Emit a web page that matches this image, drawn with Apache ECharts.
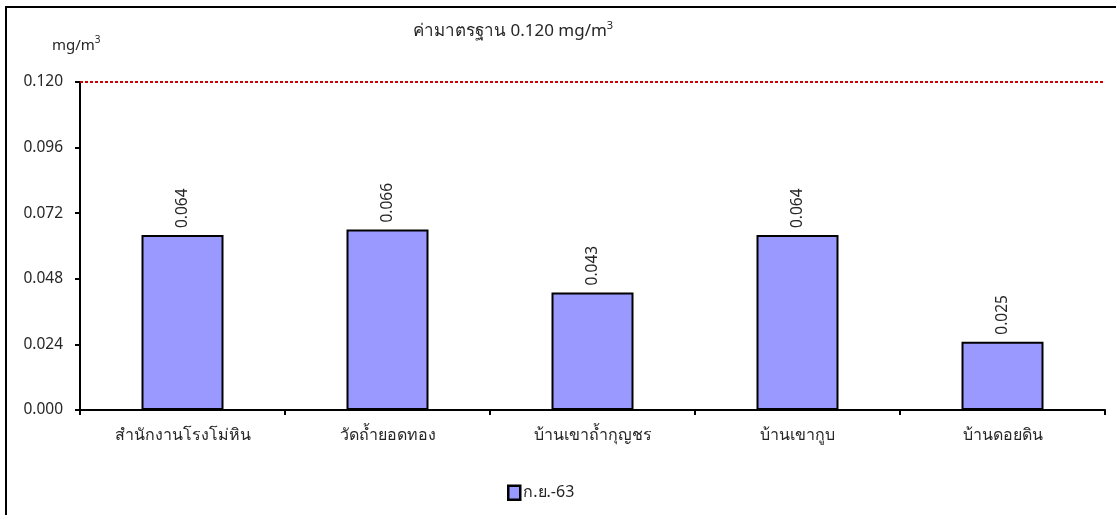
<!DOCTYPE html>
<html><head><meta charset="utf-8">
<script src="https://cdn.jsdelivr.net/npm/echarts@6/dist/echarts.min.js"></script>
<style>html,body{margin:0;padding:0;background:#fff}#c{width:1116px;height:515px}</style>
</head><body><div id="c"></div>
<script>
const categories = ['สำนักงานโรงโม่หิน', 'วัดถ้ำยอดทอง', 'บ้านเขาถ้ำกุญชร', 'บ้านเขากูบ', 'บ้านดอยดิน'];
const values = [0.064, 0.066, 0.043, 0.064, 0.025];
const seriesName = 'ก.ย.-63';
const standardValue = 0.120;
const yMin = 0, yMax = 0.120, yStep = 0.024;

const FONT = "'Noto Sans', 'DejaVu Sans', sans-serif";
const TXT = '#262626';
const chart = echarts.init(document.getElementById('c'), null, {renderer: 'canvas'});
chart.setOption({
  animation: false,
  textStyle: {fontFamily: FONT},
  grid: {left: 80, right: 11, top: 82, bottom: 105},
  graphic: [
    {type: 'rect', shape: {x: 6, y: 7, width: 1120, height: 520}, style: {fill: 'none', stroke: '#000', lineWidth: 2}},
    {type: 'text', left: 52, top: 35, style: {rich: {a: {fontSize: 15, fontFamily: FONT, fill: TXT}, s: {fontSize: 10, fontFamily: FONT, fill: TXT, padding: [0,0,12,0]}}, text: '{a|mg/m}{s|3}'}},
    {type: 'text', left: 413, top: 20, style: {rich: {a: {fontSize: 17, fontFamily: FONT, fill: TXT}, s: {fontSize: 11, fontFamily: FONT, fill: TXT, padding: [0,0,12,0]}}, text: '{a|ค่ามาตรฐาน 0.120 mg/m}{s|3}'}}
  ],
  legend: {
    bottom: 9, left: 502,
    itemWidth: 12, itemHeight: 14, itemGap: 4,
    icon: 'rect',
    textStyle: {fontSize: 16, color: TXT, fontFamily: FONT, padding: [0,0,0,-2]},
    itemStyle: {borderColor: '#000', borderWidth: 2.5},
    data: [seriesName]
  },
  xAxis: {
    type: 'category', data: categories,
    axisLine: {lineStyle: {color: '#000', width: 2}},
    axisTick: {show: true, length: 5, lineStyle: {color: '#000', width: 2}},
    axisLabel: {fontSize: 16, color: TXT, margin: 17, fontFamily: FONT}
  },
  yAxis: {
    type: 'value', min: yMin, max: yMax, interval: yStep,
    axisLine: {show: true, lineStyle: {color: '#000', width: 2}},
    axisTick: {show: true, length: 5, lineStyle: {color: '#000', width: 2}},
    splitLine: {show: false},
    axisLabel: {fontSize: 15.5, color: TXT, margin: 17, fontFamily: FONT, formatter: v => v.toFixed(3)}
  },
  series: [{
    name: seriesName, type: 'bar', data: values, barWidth: '40%',
    itemStyle: {color: '#9999FF', borderColor: '#000', borderWidth: 2},
    label: {show: true, position: 'top', rotate: 90, align: 'left', verticalAlign: 'middle', distance: 7,
      fontSize: 15.5, color: TXT, fontFamily: FONT, formatter: p => p.value.toFixed(3)},
    markLine: {
      silent: true, symbol: 'none', label: {show: false},
      lineStyle: {color: '#cc0000', type: [3, 2], width: 2},
      data: [{yAxis: standardValue}]
    }
  }]
});
</script></body></html>
